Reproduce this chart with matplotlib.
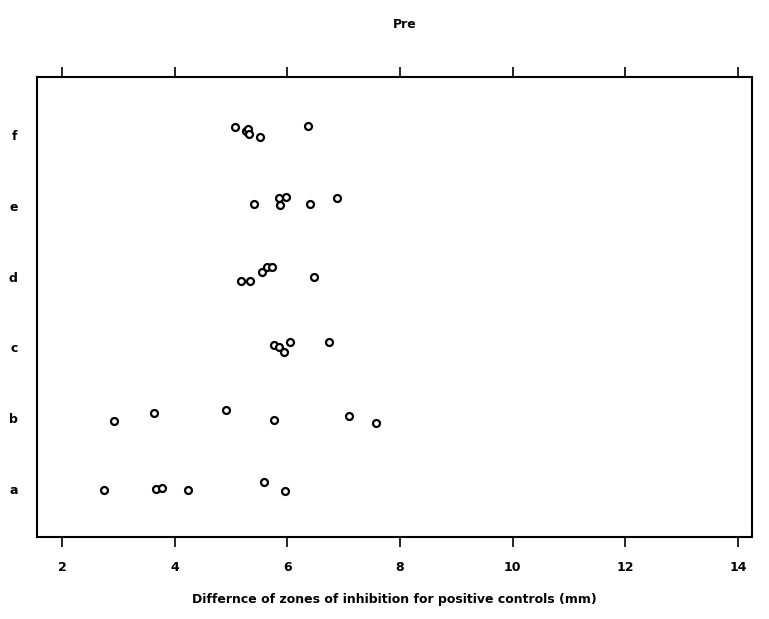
import matplotlib
matplotlib.use("Agg")
import matplotlib.pyplot as plt

categories = ["a", "b", "c", "d", "e", "f"]

# values (mm) per category
vals_a = [2.75, 3.67, 3.78, 4.24, 5.59, 5.96]
vals_b = [2.92, 3.63, 4.91, 5.76, 7.09, 7.57]
vals_c = [5.76, 5.85, 5.94, 6.05, 6.74]
vals_d = [5.18, 5.34, 5.55, 5.64, 5.73, 6.47]
vals_e = [5.41, 5.85, 5.98, 5.87, 6.40, 6.88]
vals_f = [5.07, 5.27, 5.30, 5.32, 5.52, 6.37]

# vertical jitter (category units)
jit_a = [-0.01, 0.00, 0.01, -0.01, 0.10, -0.03]
jit_b = [-0.04, 0.07, 0.11, -0.03, 0.03, -0.07]
jit_c = [0.03, 0.00, -0.06, 0.07, 0.07]
jit_d = [-0.06, -0.06, 0.06, 0.13, 0.13, -0.01]
jit_e = [0.03, 0.11, 0.13, 0.01, 0.03, 0.11]
jit_f = [0.11, 0.06, 0.08, 0.01, -0.03, 0.13]

xticks = [2, 4, 6, 8, 10, 12, 14]

values = [vals_a, vals_b, vals_c, vals_d, vals_e, vals_f]
jitters = [jit_a, jit_b, jit_c, jit_d, jit_e, jit_f]

fig = plt.figure(figsize=(7.69, 6.19), dpi=100)
top_px, bot_px = 77, 537
ax = fig.add_axes([37 / 769, 1 - bot_px / 619, (752 - 37) / 769, (bot_px - top_px) / 619])

for i, (v, j) in enumerate(zip(values, jitters)):
    ys = [i + 1 + jj for jj in j]
    ax.plot(v, ys, linestyle="none", marker="o", markersize=5,
            markerfacecolor="white", markeredgecolor="black", markeredgewidth=1.6)

x0 = 2 - (62 - 37) / 56.33
x1 = 14 + (752 - 738) / 56.33
ax.set_xlim(x0, x1)
ax.set_ylim(1 - (bot_px - 489) / 70.8, 6 + (135 - top_px) / 70.8)

ax.set_xticks(xticks)
ax.set_xticklabels([str(t) for t in xticks], fontsize=9, fontweight="bold")
ax.tick_params(axis="x", direction="out", length=7, width=1.2, top=True,
               labeltop=False, pad=10)
ax.set_yticks(range(1, len(categories) + 1))
ax.set_yticklabels(categories, fontsize=9, fontweight="bold")
ax.tick_params(axis="y", length=0, pad=14)

for s in ax.spines.values():
    s.set_linewidth(1.5)

ax.set_xlabel("Differnce of zones of inhibition for positive controls (mm)",
              fontsize=9, fontweight="bold", labelpad=14)
fig.text(405 / 769, 1 - 25 / 619, "Pre", ha="center", va="center",
         fontsize=9, fontweight="bold")

fig.savefig("out.png", dpi=100, facecolor="white")
